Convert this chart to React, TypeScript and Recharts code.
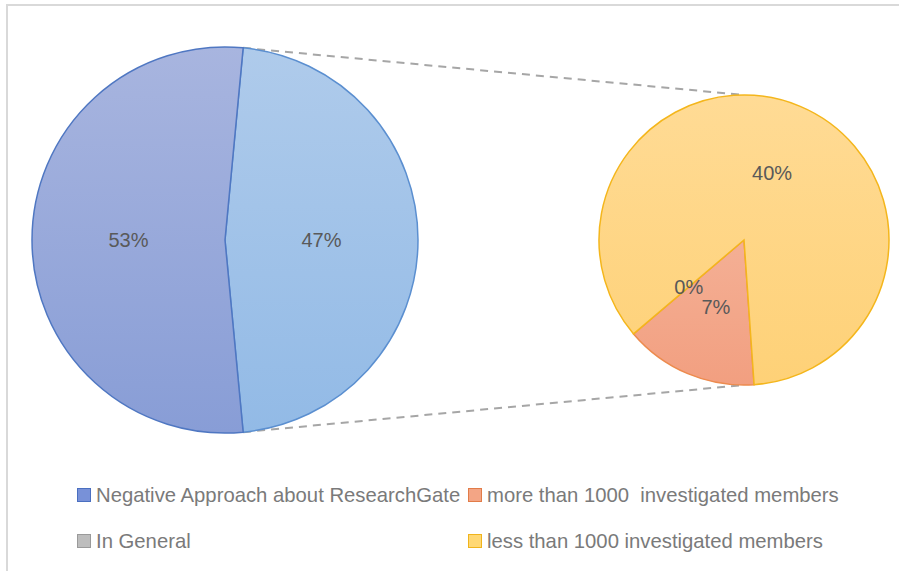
import { PieChart, Pie, Cell, Legend } from "recharts";

// main pie: the aggregated "other" slice first, so it can be centred on the right
const mainNames = ["Other", "Negative Approach about ResearchGate"];
const mainValues = [47, 53];

// secondary pie (breakdown of the "other" slice)
const subNames = ["more than 1000  investigated members", "In General", "less than 1000 investigated members"];
const subValues = [7, 0, 40];

const legendLabels = [
  "Negative Approach about ResearchGate",
  "more than 1000  investigated members",
  "In General",
  "less than 1000 investigated members",
];
const legendFill = ["#7891d8", "#f3a585", "#bdbdbd", "#ffd874"];
const legendStroke = ["#4a6fc0", "#e27c48", "#9a9a9a", "#f0b41c"];

const W = 899;
const H = 571;
const FONT = "'Liberation Sans', Arial, sans-serif";

const main = { cx: 225, cy: 240, r: 193 };
const sub = { cx: 744, cy: 240, r: 145 };

const mainData = mainNames.map((name, i) => ({ name, value: mainValues[i] }));
const subData = subNames.map((name, i) => ({ name, value: subValues[i] }));

const total = mainValues.reduce((a, b) => a + b, 0);
const otherSpan = (mainValues[0] / total) * 360;
const mainStart = otherSpan / 2;
const subStart = -86;

const RAD = Math.PI / 180;

function renderLabel(props: any) {
  const { cx, cy, midAngle, outerRadius, value } = props;
  const r = outerRadius * 0.5;
  const x = cx + r * Math.cos(-midAngle * RAD);
  const y = cy + r * Math.sin(-midAngle * RAD);
  return (
    <text
      x={x}
      y={y}
      textAnchor="middle"
      dominantBaseline="central"
      fill="#595959"
      fontSize={20}
      fontFamily={FONT}
    >
      {`${value}%`}
    </text>
  );
}

function renderLegend() {
  const colX = [77, 468];
  const rowY = [495, 541];
  return (
    <div style={{ position: "relative", width: W, height: 100 }}>
      {legendLabels.map((label, i) => {
        const col = i % 2;
        const row = Math.floor(i / 2);
        return (
          <div
            key={label}
            style={{
              position: "absolute",
              left: colX[col],
              top: rowY[row] - 470 - 12,
              height: 24,
              display: "flex",
              alignItems: "center",
              whiteSpace: "pre",
              fontFamily: FONT,
              fontSize: 20.3,
              color: "#7a7a7a",
            }}
          >
            <span
              style={{
                display: "inline-block",
                width: 12,
                height: 12,
                marginRight: 5,
                background: legendFill[i],
                border: `1.5px solid ${legendStroke[i]}`,
              }}
            />
            {label}
          </div>
        );
      })}
    </div>
  );
}

export default function App() {
  const a0 = mainStart * RAD;
  const topStart = { x: main.cx + main.r * Math.cos(a0), y: main.cy - main.r * Math.sin(a0) };
  const botStart = { x: main.cx + main.r * Math.cos(a0), y: main.cy + main.r * Math.sin(a0) };
  const topEnd = { x: sub.cx, y: sub.cy - sub.r };
  const botEnd = { x: sub.cx, y: sub.cy + sub.r };

  return (
    <div
      style={{
        position: "absolute",
        left: 0,
        top: 0,
        width: W,
        height: H,
        overflow: "hidden",
        background: "#fff",
      }}
    >
      <div
        style={{
          position: "absolute",
          left: 6,
          top: 4,
          width: W + 20,
          height: H + 20,
          borderLeft: "2px solid #d9d9d9",
          borderTop: "2px solid #d9d9d9",
        }}
      />
      <svg width={W} height={H} style={{ position: "absolute", left: 0, top: 0 }}>
        <line x1={topStart.x} y1={topStart.y} x2={topEnd.x} y2={topEnd.y} stroke="#a6a6a6" strokeWidth={2} strokeDasharray="8 6" />
        <line x1={botStart.x} y1={botStart.y} x2={botEnd.x} y2={botEnd.y} stroke="#a6a6a6" strokeWidth={2} strokeDasharray="8 6" />
      </svg>
      <div style={{ position: "absolute", left: 0, top: 0 }}>
        <PieChart width={W} height={H} margin={{ top: 0, right: 0, bottom: 0, left: 0 }}>
          <defs>
            <linearGradient id="gOther" gradientUnits="userSpaceOnUse" x1="0" y1={main.cy - main.r} x2="0" y2={main.cy + main.r}>
              <stop offset="0%" stopColor="#afcbeb" />
              <stop offset="100%" stopColor="#92bae6" />
            </linearGradient>
            <linearGradient id="gNeg" gradientUnits="userSpaceOnUse" x1="0" y1={main.cy - main.r} x2="0" y2={main.cy + main.r}>
              <stop offset="0%" stopColor="#a8b5df" />
              <stop offset="100%" stopColor="#889dd6" />
            </linearGradient>
            <linearGradient id="gMore" gradientUnits="userSpaceOnUse" x1="0" y1={sub.cy - sub.r} x2="0" y2={sub.cy + sub.r}>
              <stop offset="0%" stopColor="#f6c0aa" />
              <stop offset="100%" stopColor="#f29f80" />
            </linearGradient>
            <linearGradient id="gGen" gradientUnits="userSpaceOnUse" x1="0" y1={sub.cy - sub.r} x2="0" y2={sub.cy + sub.r}>
              <stop offset="0%" stopColor="#d0d0d0" />
              <stop offset="100%" stopColor="#b5b5b5" />
            </linearGradient>
            <linearGradient id="gLess" gradientUnits="userSpaceOnUse" x1="0" y1={sub.cy - sub.r} x2="0" y2={sub.cy + sub.r}>
              <stop offset="0%" stopColor="#ffdb95" />
              <stop offset="100%" stopColor="#fed177" />
            </linearGradient>
          </defs>
          <Pie
            data={mainData}
            dataKey="value"
            nameKey="name"
            cx={main.cx}
            cy={main.cy}
            outerRadius={main.r}
            startAngle={mainStart}
            endAngle={mainStart - 360}
            label={renderLabel}
            labelLine={false}
            isAnimationActive={false}
          >
            <Cell fill="url(#gOther)" stroke="#5b8fd0" strokeWidth={1.5} />
            <Cell fill="url(#gNeg)" stroke="#4f77c2" strokeWidth={1.5} />
          </Pie>
          <Pie
            data={subData}
            dataKey="value"
            nameKey="name"
            cx={sub.cx}
            cy={sub.cy}
            outerRadius={sub.r}
            startAngle={subStart}
            endAngle={subStart - 360}
            label={renderLabel}
            labelLine={false}
            isAnimationActive={false}
          >
            <Cell fill="url(#gMore)" stroke="#ed8b4e" strokeWidth={1.5} />
            <Cell fill="url(#gGen)" stroke="#a5a5a5" strokeWidth={1.5} />
            <Cell fill="url(#gLess)" stroke="#f4b61c" strokeWidth={1.5} />
          </Pie>
          <Legend content={renderLegend} wrapperStyle={{ left: 0, top: 470, width: W, height: 100 }} />
        </PieChart>
      </div>
    </div>
  );
}
